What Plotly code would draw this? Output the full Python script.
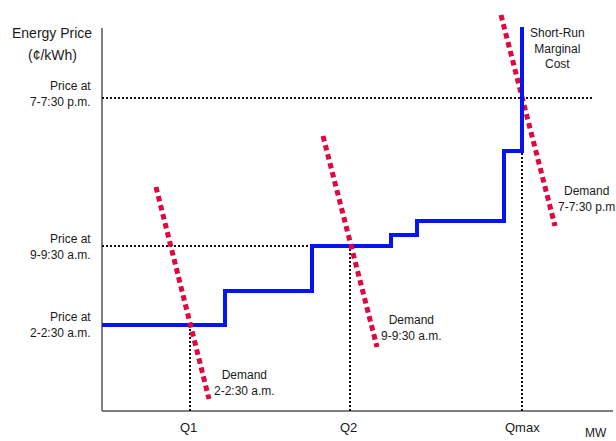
import plotly.graph_objects as go

# Supply (short-run marginal cost) step curve: MW breakpoints and price levels
supply_mw = [0, 123, 210, 289, 315, 402, 420]
supply_price = [86, 120, 165, 176, 190, 260, 384]

# Equilibrium quantities and prices
q_labels = ["Q1", "Q2", "Qmax"]
q_values = [88, 248, 420]
price_labels = ["Price at<br>2-2:30 a.m.", "Price at<br>9-9:30 a.m.", "Price at<br>7-7:30 p.m."]
price_values = [86, 165, 313]

# Demand lines (start/end points)
demand1_mw = [54, 107]
demand1_price = [224, 12]
demand2_mw = [221, 275]
demand2_price = [275, 64]
demand3_mw = [399, 453]
demand3_price = [396, 185]

AX_TOP = 383
AX_RIGHT = 511

BLUE = "#0514F5"
RED = "#E0063F"
BLACK = "#111111"
TXT = "#1a1a1a"
FONT = "Liberation Sans, Arial, sans-serif"

fig = go.Figure()

# axes
fig.add_trace(go.Scatter(x=[0, 0], y=[0, AX_TOP], mode="lines",
                         line=dict(color="#555555", width=1.5), hoverinfo="skip"))
fig.add_trace(go.Scatter(x=[0, AX_RIGHT], y=[0, 0], mode="lines",
                         line=dict(color="#555555", width=1.5), hoverinfo="skip"))

guide = dict(color=BLACK, width=2, dash="2px,2px")
# horizontal guides
fig.add_trace(go.Scatter(x=[0, 490], y=[price_values[2]] * 2, mode="lines", line=guide))
fig.add_trace(go.Scatter(x=[0, q_values[1]], y=[price_values[1]] * 2, mode="lines", line=guide))
# vertical guides
for q, p in zip(q_values, price_values):
    fig.add_trace(go.Scatter(x=[q, q], y=[0, p], mode="lines", line=guide))

red = dict(color=RED, width=5, dash="5.5px,3.8px")
fig.add_trace(go.Scatter(x=demand3_mw, y=demand3_price, mode="lines", line=red))

# supply curve
fig.add_trace(go.Scatter(x=supply_mw, y=supply_price, mode="lines", line_shape="hv",
                         line=dict(color=BLUE, width=4)))

fig.add_trace(go.Scatter(x=demand1_mw, y=demand1_price, mode="lines", line=red))
fig.add_trace(go.Scatter(x=demand2_mw, y=demand2_price, mode="lines", line=red))

ann = []
def add(text, x, y, size=12, xanchor="center", align="center"):
    ann.append(dict(text=text, x=x, y=y, xref="x", yref="y", showarrow=False,
                    xanchor=xanchor, yanchor="middle", align=align,
                    font=dict(family=FONT, size=size, color=TXT)))

add("Energy Price", -50, 378, size=14)
add("(¢/kWh)", -50, 356, size=14)
for lbl, p, yc in zip(price_labels, price_values, [86.5, 164, 317]):
    add(lbl, -9, yc, xanchor="right", align="right")
for lbl, q in zip(q_labels, q_values):
    add(lbl, q - 2 if lbl != "Qmax" else q, -16, size=13)
add("MW", 494, -22, size=12)
add("Demand<br>2-2:30 a.m.", 142, 28.5)
add("Demand<br>9-9:30 a.m.", 309, 83)
add("Demand<br>7-7:30 p.m", 484, 212.5)
add("Short-Run<br>Marginal<br>Cost", 455, 362.5)

fig.update_layout(
    width=616, height=441,
    margin=dict(l=0, r=0, t=0, b=0),
    paper_bgcolor="white", plot_bgcolor="white",
    showlegend=False,
    annotations=ann,
    xaxis=dict(range=[-102, 514], visible=False, fixedrange=True),
    yaxis=dict(range=[-30, 411], visible=False, fixedrange=True),
)

fig.write_html("out.html", config={"displayModeBar": False},
               post_script="document.body.style.margin='0';document.body.style.overflow='hidden';")
